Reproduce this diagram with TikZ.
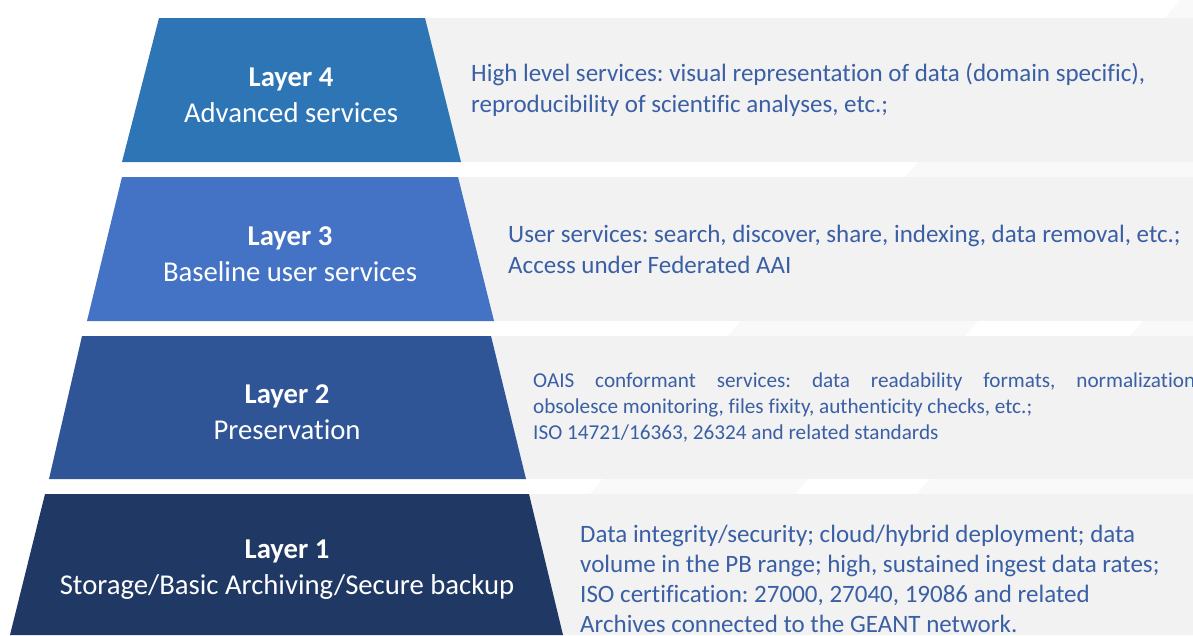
\documentclass[tikz,border=0pt]{standalone}
\usepackage{fontspec}
\setmainfont{Carlito}[Ligatures=NoCommon]
\frenchspacing
\definecolor{lfour}{HTML}{2E75B6}
\definecolor{lthree}{HTML}{4472C4}
\definecolor{ltwo}{HTML}{2F5597}
\definecolor{lone}{HTML}{203864}
\definecolor{band}{HTML}{F2F2F2}
\definecolor{faint}{HTML}{F9F9F9}
\definecolor{desc}{HTML}{3A5FA5}
\tikzset{
  bandbox/.style={fill=band, draw=none},
  faintbar/.style={fill=faint, draw=none},
  layertitle/.style={text=white, align=center, font=\fontsize{28.7}{36}\selectfont, inner sep=0pt},
  desctext/.style={text=desc, align=left, anchor=west, inner sep=0pt, font=\fontsize{25}{31}\selectfont},
}
\begin{document}
\begin{tikzpicture}[x=1pt,y=-1pt]
\useasboundingbox (0,0) rectangle (1193,635);
\fill[white] (0,0) rectangle (1193,635);
% grey bands
\path[bandbox] (300,18) rectangle (1193,162);
\path[bandbox] (300,177) rectangle (1193,321);
\path[bandbox] (300,336) rectangle (1193,479);
\path[bandbox] (300,494) rectangle (1193,635);
% faint bars in the gaps
\path[faintbar] (1165,18) -- (1180,0) -- (1193,0) -- (1193,18) -- cycle;
\path[faintbar] (905,177) -- (918,162) -- (1193,162) -- (1193,177) -- cycle;
\path[faintbar] (728,336) -- (741,321) -- (978,321) -- (965,336) -- cycle;
\path[faintbar] (1130,336) -- (1143,321) -- (1193,321) -- (1193,336) -- cycle;
\path[faintbar] (590,494) -- (603,479) -- (808,479) -- (795,494) -- cycle;
\path[faintbar] (917,494) -- (930,479) -- (1193,479) -- (1193,494) -- cycle;
% trapezoids
\path[fill=lfour] (159,18) -- (425,18) -- (461,162) -- (122,162) -- cycle;
\path[fill=lthree] (122,177) -- (458,177) -- (494,321) -- (87,321) -- cycle;
\path[fill=ltwo] (82,336) -- (491,336) -- (526,479) -- (49,479) -- cycle;
\path[fill=lone] (45,494) -- (529,494) -- (563,635) -- (10,635) -- cycle;
% titles
\node[layertitle] (t4) at (291,95) {\textbf{Layer 4}\\Advanced services};
\node[layertitle] (t3) at (290,254) {\textbf{Layer 3}\\Baseline user services};
\node[layertitle] (t2) at (287,412) {\textbf{Layer 2}\\Preservation};
\node[layertitle] (t1) at (287,570) {\textbf{Layer 1}\\Storage/Basic Archiving/Secure backup};
% descriptions
\node[desctext] (d4) at (471,90) {High level services: visual representation of data (domain specific),\\reproducibility of scientific analyses, etc.;};
\node[desctext] (d3) at (508,249) {User services: search, discover, share, indexing, data removal, etc.;\\Access under Federated AAI};
\node[desctext, font=\fontsize{21.2}{26}\selectfont] (d2) at (533,407) {\makebox[662pt][s]{OAIS conformant services: data readability formats, normalization}\\obsolesce monitoring, files fixity, authenticity checks, etc.;\\ISO 14721/16363, 26324 and related standards};
\node[desctext, font=\fontsize{25}{30}\selectfont] (d1) at (580,579) {Data integrity/security; cloud/hybrid deployment; data\\volume in the PB range; high, sustained ingest data rates;\\ISO certification: 27000, 27040, 19086 and related\\Archives connected to the GEANT network.};
\end{tikzpicture}
\end{document}
